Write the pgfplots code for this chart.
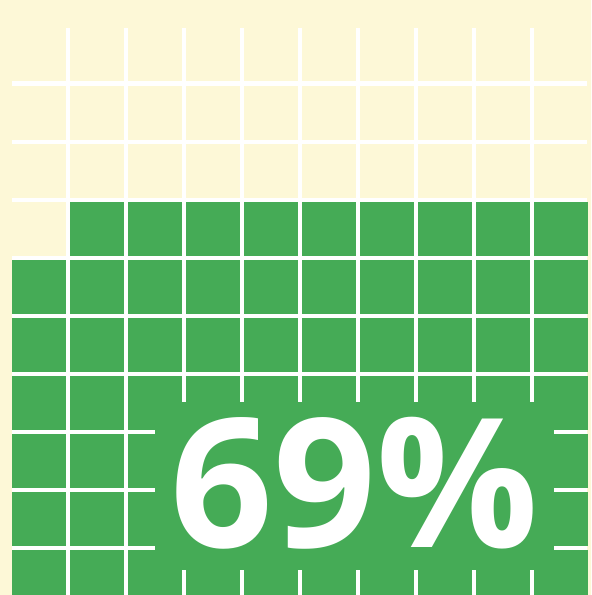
\documentclass[border=0pt]{standalone}
\usepackage{pgfplots}
\pgfplotsset{compat=1.18}
\usepackage{fontspec}
\newfontfamily\bigfont{Open Sans Bold}
\definecolor{cream}{RGB}{253,248,215}
\definecolor{wgreen}{RGB}{69,171,86}
\begin{document}
\begin{tikzpicture}
\begin{axis}[
  scale only axis, width=591pt, height=595pt,
  xmin=-0.6638, xmax=9.5259, ymin=-0.9397, ymax=9.3190,
  y dir=reverse, axis lines=none, ticks=none, clip=true,
  clip marker paths=true,
]
% background
\addplot[fill=cream, draw=none] coordinates {(-0.7,-1) (9.6,-1) (9.6,9.4) (-0.7,9.4)} -- cycle;
% grid region (white gaps)
\addplot[fill=white, draw=none] coordinates {(-0.457,-0.457) (9.457,-0.457) (9.457,9.6) (-0.457,9.6)} -- cycle;
% empty cells
\addplot[only marks, color=cream, mark=square*, mark size=26.5pt, mark options={line width=0pt}] coordinates {
(0,0) (1,0) (2,0) (3,0) (4,0) (5,0) (6,0) (7,0) (8,0) (9,0)
(0,1) (1,1) (2,1) (3,1) (4,1) (5,1) (6,1) (7,1) (8,1) (9,1)
(0,2) (1,2) (2,2) (3,2) (4,2) (5,2) (6,2) (7,2) (8,2) (9,2)
(0,3)
};
% filled cells (69)
\addplot[only marks, color=wgreen, mark=square*, mark size=26.5pt, mark options={line width=0pt}] coordinates {
(1,3) (2,3) (3,3) (4,3) (5,3) (6,3) (7,3) (8,3) (9,3)
(0,4) (1,4) (2,4) (3,4) (4,4) (5,4) (6,4) (7,4) (8,4) (9,4)
(0,5) (1,5) (2,5) (3,5) (4,5) (5,5) (6,5) (7,5) (8,5) (9,5)
(0,6) (1,6) (2,6) (3,6) (4,6) (5,6) (6,6) (7,6) (8,6) (9,6)
(0,7) (1,7) (2,7) (3,7) (4,7) (5,7) (6,7) (7,7) (8,7) (9,7)
(0,8) (1,8) (2,8) (3,8) (4,8) (5,8) (6,8) (7,8) (8,8) (9,8)
(0,9) (1,9) (2,9) (3,9) (4,9) (5,9) (6,9) (7,9) (8,9) (9,9)
};
% label box
\addplot[fill=wgreen, draw=none] coordinates {(2.009,5.991) (8.888,5.991) (8.888,8.888) (2.009,8.888)} -- cycle;
\node[text=white, inner sep=0pt, anchor=center] at (axis cs:5.448,7.40)
  {\bigfont\fontsize{180}{200}\selectfont 69\%};
\end{axis}
\end{tikzpicture}
\end{document}
